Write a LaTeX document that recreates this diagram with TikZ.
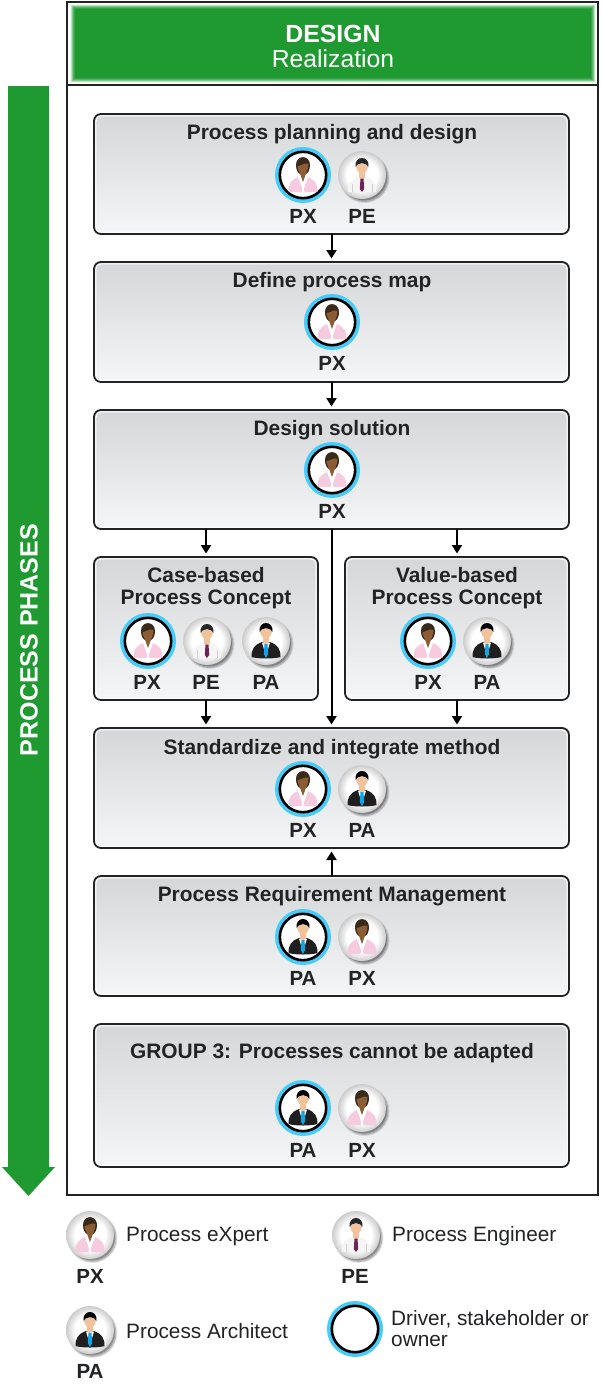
\documentclass[tikz,border=0pt]{standalone}
\usepackage{fontspec}
\setmainfont{Liberation Sans}
\usetikzlibrary{arrows.meta,calc}
\definecolor{phgreen}{HTML}{1F9A30}
\definecolor{ink}{HTML}{222325}
\definecolor{ringblue}{HTML}{45CCF8}
\definecolor{boxtop}{HTML}{D5D6D8}
\definecolor{boxbot}{HTML}{F5F6F8}
\definecolor{jacketpink}{HTML}{F6CBE0}
\definecolor{skinlight}{HTML}{F1C39C}
\definecolor{skindark}{HTML}{8C5C34}
\definecolor{hairdark}{HTML}{3A2A1C}
\definecolor{tiepurple}{HTML}{6E2256}
\definecolor{tieblue}{HTML}{12A5E6}
\pgfdeclareradialshading{sphere}{\pgfpoint{0bp}{0bp}}{rgb(0bp)=(1,1,1); rgb(16bp)=(1,1,1); rgb(25bp)=(0.80,0.80,0.80); rgb(50bp)=(0.80,0.80,0.80)}
\tikzset{
  phasebox/.style={draw=ink,line width=1.8pt,rounded corners=7pt,top color=boxtop,bottom color=boxbot,inner sep=0pt,outer sep=0pt},
  boxtitle/.style={font=\fontsize{20.9}{22}\selectfont\bfseries,text=ink,align=center,inner sep=0pt},
  role/.style={font=\fontsize{20.5}{20}\selectfont\bfseries,text=ink,inner sep=0pt},
  legendtext/.style={font=\fontsize{20.8}{21}\selectfont,text=ink,anchor=west,align=left,inner sep=0pt},
  flow/.style={draw=black,line width=2pt,-{Triangle[width=10pt,length=8.5pt]},shorten >=3.5pt},
  ball/.pic={
    \fill[black,opacity=.10] (2.5,3) circle[radius=25pt];
    \fill[black,opacity=.18] (2.5,3) circle[radius=24pt];
    \fill[black,opacity=.25] (2,2.5) circle[radius=23pt];
    \shade[shading=sphere] (0,0) circle[radius=24pt];
  },
  ringed/.pic={
    \fill[white] (0,0) circle[radius=24pt];
    \draw[ringblue,line width=4pt] (0,0) circle[radius=26pt];
    \draw[black,line width=2.6pt] (0,0) circle[radius=23.2pt];
  },
  figpx/.pic={
    \fill[jacketpink] (-14.5,17) .. controls (-14.5,9) and (-13,6) .. (-5,2) -- (0,15) -- (5,2) .. controls (13,6) and (14.5,9) .. (14.5,17) -- cycle;
    \fill[white] (-4.5,2.5) -- (0,16) -- (4.5,2.5) -- cycle;
    \fill[white] (-1.5,17) -- (0,12) -- (1.5,17) -- cycle;
    \fill[hairdark] (-7,-10) .. controls (-7,-20.5) and (7,-20.5) .. (7,-10) .. controls (7,-5) and (5,-2) .. (3,-1) -- (-3,-1) .. controls (-5,-2) and (-7,-5) .. (-7,-10) -- cycle;
    \fill[skindark] (-5.5,-9) .. controls (-2,-9) and (2,-13) .. (5.5,-11) .. controls (5.5,-5) and (3,-3) .. (2.5,0) -- (0,7) -- (-2.5,0) .. controls (-3,-3) and (-5.5,-5) .. (-5.5,-9) -- cycle;
  },
  figpe/.pic={
    \fill[black!4] (-14,17) .. controls (-14,8) and (-12,5) .. (-4,2) -- (4,2) .. controls (12,5) and (14,8) .. (14,17) -- cycle;
    \draw[black!18,line width=.5pt] (-10,17) -- (-10,9) (10,17) -- (10,9);
    \fill[skinlight] (-3,-4) -- (3,-4) -- (3,2) -- (0,5) -- (-3,2) -- cycle;
    \fill[skinlight] (-6.2,-11) .. controls (-6.2,-5) and (-3,-1) .. (0,-1) .. controls (3,-1) and (6.2,-5) .. (6.2,-11) -- cycle;
    \fill[black!85] (-6.5,-8) .. controls (-8,-20) and (8,-20) .. (6.5,-8) .. controls (5.5,-13) and (-5.5,-13) .. (-6.5,-8) -- cycle;
    \fill[tiepurple] (-1.5,3.5) -- (1.5,3.5) -- (2.2,14) -- (0,17) -- (-2.2,14) -- cycle;
  },
  figpa/.pic={
    \fill[black!88] (-14.5,16) .. controls (-14.5,8) and (-12,4) .. (-4,1) -- (4,1) .. controls (12,4) and (14.5,8) .. (14.5,16) .. controls (8,18) and (-8,18) .. (-14.5,16) -- cycle;
    \fill[white] (-4,1.5) -- (0,15) -- (4,1.5) -- cycle;
    \fill[skinlight] (-3,-5) -- (3,-5) -- (3,1) -- (0,4) -- (-3,1) -- cycle;
    \fill[skinlight] (-6.2,-12) .. controls (-6.2,-6) and (-3,-2) .. (0,-2) .. controls (3,-2) and (6.2,-6) .. (6.2,-12) -- cycle;
    \fill[black] (-6.5,-9) .. controls (-8,-21) and (8,-21) .. (6.5,-9) .. controls (5.5,-14) and (-5.5,-14) .. (-6.5,-9) -- cycle;
    \fill[tieblue] (-1.5,3) -- (1.5,3) -- (2.2,13) -- (0,17) -- (-2.2,13) -- cycle;
  }
}
% name, left, top, right, bottom
\newcommand{\stagebox}[5]{%
  \node[phasebox,minimum width=#4pt-#2pt,minimum height=#5pt-#3pt] (#1) at ({(#2+#4)/2},{(#3+#5)/2}) {};
  \draw[white,line width=1pt,rounded corners=5.5pt] (#2+1.8,#3+1.8) rectangle (#4-1.8,#5-1.8);
}
\begin{document}
\begin{tikzpicture}[x=1pt,y=-1pt]
\useasboundingbox (0,0) rectangle (602,1384);
\fill[white] (0,0) rectangle (602,1384);
% frame
\draw[ink,line width=1.8pt] (67,2) rectangle (598,1195);
\draw[ink,line width=1.8pt] (67,85) -- (598,85);
% header with soft edge
\fill[phgreen!8!white] (69.5,4) rectangle (596,83);
\fill[phgreen!30!white] (70.5,5) rectangle (595,82);
\fill[phgreen!55!white] (71.5,6) rectangle (594,81);
\fill[phgreen!75!white] (72.5,7) rectangle (593,80);
\fill[phgreen!90!white] (73.5,8) rectangle (592,79);
\fill[phgreen] (74.5,9) rectangle (591,78);
\node[font=\fontsize{24.8}{25}\selectfont\bfseries,text=white,inner sep=0pt] (hdA) at (333,33.5) {DESIGN};
\node[font=\fontsize{24.7}{25}\selectfont,text=white,inner sep=0pt] (hdB) at (333,59) {Realization};
% phases arrow
\fill[phgreen] (8,86) -- (49,86) -- (49,1167) -- (55,1167) -- (28.5,1196) -- (2,1167) -- (8,1167) -- cycle;
\node[rotate=90,font=\fontsize{25}{25}\selectfont\bfseries,text=white,inner sep=0pt] (phases) at (29,640) {PROCESS PHASES};
% boxes
\stagebox{b1}{94}{114}{569}{234}
\stagebox{b2}{94}{262}{569}{382}
\stagebox{b3}{94}{410}{569}{529}
\stagebox{b4}{94}{557}{318}{700}
\stagebox{b5}{345}{557}{569}{700}
\stagebox{b6}{94}{728}{569}{848}
\stagebox{b7}{94}{876}{569}{996}
\stagebox{b8}{94}{1024}{569}{1167}
% titles
\node[boxtitle] (t1) at (332,134.5) {Process planning and design};
\node[boxtitle] (t2) at (332,282.5) {Define process map};
\node[boxtitle] (t3) at (332,430) {Design solution};
\node[boxtitle] (t4) at (206,588.5) {Case-based\\Process Concept};
\node[boxtitle] (t5) at (457,588.5) {Value-based\\Process Concept};
\node[boxtitle] (t6) at (332,749) {Standardize and integrate method};
\node[boxtitle] (t7) at (332,896) {Process Requirement Management};
\node[boxtitle] (t8) at (332,1053) {GROUP 3: Processes cannot be adapted};
% people in boxes
\pic at (303,175) {ringed}; \pic at (303,175) {figpx}; \node[role] (r1a) at (303,216) {PX};
\pic at (362,175) {ball}; \pic at (362,175) {figpe}; \node[role] (r1b) at (362,216) {PE};
\pic at (332,322) {ringed}; \pic at (332,322) {figpx}; \node[role] (r2a) at (332,363) {PX};
\pic at (332,470) {ringed}; \pic at (332,470) {figpx}; \node[role] (r3a) at (332,511) {PX};
\pic at (148,641) {ringed}; \pic at (148,641) {figpx}; \node[role] (r4a) at (147,682) {PX};
\pic at (207,641) {ball}; \pic at (207,641) {figpe}; \node[role] (r4b) at (206,682) {PE};
\pic at (266,641) {ball}; \pic at (266,641) {figpa}; \node[role] (r4c) at (266,682) {PA};
\pic at (428,641) {ringed}; \pic at (428,641) {figpx}; \node[role] (r5a) at (428,682) {PX};
\pic at (487,641) {ball}; \pic at (487,641) {figpa}; \node[role] (r5b) at (487,682) {PA};
\pic at (303,789) {ringed}; \pic at (303,789) {figpx}; \node[role] (r6a) at (303,830) {PX};
\pic at (362,789) {ball}; \pic at (362,789) {figpa}; \node[role] (r6b) at (362,830) {PA};
\pic at (303,937) {ringed}; \pic at (303,937) {figpa}; \node[role] (r7a) at (303,978) {PA};
\pic at (362,937) {ball}; \pic at (362,937) {figpx}; \node[role] (r7b) at (362,978) {PX};
\pic at (303,1108) {ringed}; \pic at (303,1108) {figpa}; \node[role] (r8a) at (303,1150) {PA};
\pic at (362,1108) {ball}; \pic at (362,1108) {figpx}; \node[role] (r8b) at (362,1150) {PX};
% connectors
\draw[flow] (b1) -- (b2);
\draw[flow] (b2) -- (b3);
\draw[flow] (b4.north |- b3.south) -- (b4.north);
\draw[flow] (b5.north |- b3.south) -- (b5.north);
\draw[flow] (b3.south) -- (b6.north);
\draw[flow] (b4.south) -- (b4.south |- b6.north);
\draw[flow] (b5.south) -- (b5.south |- b6.north);
\draw[flow] (b7.north) -- (b6.south);
% legend
\pic at (90,1235) {ball}; \pic at (90,1235) {figpx}; \node[role] (lg1) at (90,1276.5) {PX};
\node[legendtext] (lt1) at (126,1236.5) {Process eXpert};
\pic at (356,1235) {ball}; \pic at (356,1235) {figpe}; \node[role] (lg2) at (355,1276.5) {PE};
\node[legendtext] (lt2) at (392,1236.5) {Process Engineer};
\pic at (90,1330) {ball}; \pic at (90,1330) {figpa}; \node[role] (lg3) at (90,1371.5) {PA};
\node[legendtext] (lt3) at (126,1331.5) {Process Architect};
\pic at (355,1329) {ringed};
\node[legendtext] (lt4) at (391,1329) {Driver, stakeholder or\\owner};
\end{tikzpicture}
\end{document}
